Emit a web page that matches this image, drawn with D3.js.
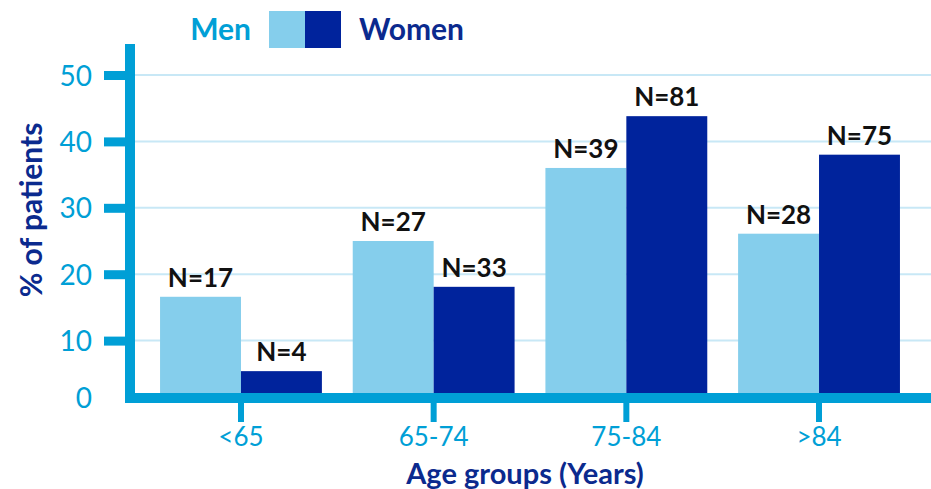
<!DOCTYPE html>
<html>
<head>
<meta charset="utf-8">
<script src="https://cdn.jsdelivr.net/npm/d3@7"></script>
<style>
  body { margin: 0; background: #fff; }
  text { font-family: Lato, 'Open Sans', sans-serif; }
</style>
</head>
<body>
<script>
// Data
const ageGroups = ['<65', '65-74', '75-84', '>84'];
const menPct = [16.6, 25.0, 36.0, 26.1];
const womenPct = [5.4, 18.1, 43.8, 38.0];
const menN = [17, 27, 39, 28];
const womenN = [4, 33, 81, 75];
const yTicks = [10, 20, 30, 40, 50];
const seriesNames = ['Men', 'Women'];

const width = 931, height = 489;
const axisBlue = '#009fd6';
const lightBar = '#85ceec';
const darkBar = '#00239c';
const titleBlue = '#0b2a8e';
const gridColor = '#c8e8f6';

const yAxisX = 130;   // centre of the thick y axis line
const xAxisY = 398;   // centre of the thick x axis line

let svg = d3.select('body')
  .append('svg')
  .attr('width', width)
  .attr('height', height);

// Scales
let y = d3.scaleLinear().domain([0, 50]).range([407, 75]);
let x0 = d3.scaleBand().domain(ageGroups).range([135, 925])
  .paddingInner(0.16).paddingOuter(0.13);
let x1 = d3.scaleBand().domain(seriesNames).range([0, x0.bandwidth()]);
let color = d3.scaleOrdinal().domain(seriesNames).range([lightBar, darkBar]);

// Grid lines
svg.append('g')
  .selectAll('line')
  .data(yTicks)
  .enter()
  .append('line')
  .attr('x1', yAxisX + 5)
  .attr('x2', width)
  .attr('y1', d => y(d))
  .attr('y2', d => y(d))
  .attr('stroke', gridColor)
  .attr('stroke-width', 2);

// Bars
let rows = ageGroups.map((g, i) => ({
  group: g,
  values: [
    { key: 'Men', value: menPct[i], n: menN[i] },
    { key: 'Women', value: womenPct[i], n: womenN[i] }
  ]
}));

const baseY = xAxisY - 5;

let groups = svg.append('g')
  .selectAll('g')
  .data(rows)
  .enter()
  .append('g')
  .attr('transform', d => `translate(${x0(d.group)},0)`);

groups.selectAll('rect')
  .data(d => d.values)
  .enter()
  .append('rect')
  .attr('x', d => x1(d.key))
  .attr('y', d => y(d.value))
  .attr('width', x1.bandwidth())
  .attr('height', d => baseY - y(d.value))
  .attr('fill', d => color(d.key));

groups.selectAll('text')
  .data(d => d.values)
  .enter()
  .append('text')
  .attr('x', d => x1(d.key) + x1.bandwidth() / 2)
  .attr('y', d => y(d.value) - 10)
  .attr('text-anchor', 'middle')
  .style('font-size', '26px')
  .style('font-weight', 'bold')
  .style('fill', '#111')
  .text(d => 'N=' + d.n);

// Y axis
let yAxis = svg.append('g')
  .attr('transform', `translate(${yAxisX},0)`)
  .call(d3.axisLeft(y).tickValues(yTicks).tickSize(26).tickPadding(12));
yAxis.select('.domain').remove();
yAxis.selectAll('line')
  .attr('stroke', axisBlue)
  .attr('stroke-width', 9);
yAxis.selectAll('text')
  .style('font-size', '28px')
  .style('font-weight', '400')
  .style('fill', axisBlue)
  .attr('dy', '0.36em');

svg.append('line')
  .attr('x1', yAxisX).attr('x2', yAxisX)
  .attr('y1', 44).attr('y2', xAxisY + 5)
  .attr('stroke', axisBlue)
  .attr('stroke-width', 10);

// zero label sits at the corner
svg.append('text')
  .attr('x', yAxisX - 38)
  .attr('y', xAxisY + 10)
  .attr('text-anchor', 'end')
  .style('font-size', '28px')
  .style('font-weight', '400')
  .style('fill', axisBlue)
  .text('0');

// X axis
svg.append('line')
  .attr('x1', yAxisX - 5).attr('x2', width)
  .attr('y1', xAxisY).attr('y2', xAxisY)
  .attr('stroke', axisBlue)
  .attr('stroke-width', 10);

let xAxis = svg.append('g')
  .attr('transform', `translate(0,${xAxisY + 5})`)
  .call(d3.axisBottom(x0).tickSize(19).tickPadding(6));
xAxis.select('.domain').remove();
xAxis.selectAll('line')
  .attr('stroke', axisBlue)
  .attr('stroke-width', 6);
xAxis.selectAll('text')
  .style('font-size', '26px')
  .style('font-weight', '400')
  .style('fill', axisBlue);

// Axis titles
svg.append('text')
  .attr('x', 525)
  .attr('y', 484)
  .attr('text-anchor', 'middle')
  .style('font-size', '29px')
  .style('font-weight', 'bold')
  .style('fill', titleBlue)
  .text('Age groups (Years)');

svg.append('text')
  .attr('transform', 'rotate(-90)')
  .attr('x', -210)
  .attr('y', 42)
  .attr('text-anchor', 'middle')
  .style('font-size', '30px')
  .style('font-weight', 'bold')
  .style('fill', titleBlue)
  .text('% of patients');

// Legend
svg.append('text')
  .attr('x', 251).attr('y', 40)
  .attr('text-anchor', 'end')
  .style('font-size', '30px')
  .style('font-weight', 'bold')
  .style('fill', axisBlue)
  .text('Men');

svg.append('rect')
  .attr('x', 269).attr('y', 11)
  .attr('width', 36).attr('height', 37)
  .attr('fill', lightBar);
svg.append('rect')
  .attr('x', 305).attr('y', 11)
  .attr('width', 36).attr('height', 37)
  .attr('fill', darkBar);

svg.append('text')
  .attr('x', 359).attr('y', 40)
  .style('font-size', '30px')
  .style('font-weight', 'bold')
  .style('fill', titleBlue)
  .text('Women');
</script>
</body>
</html>
